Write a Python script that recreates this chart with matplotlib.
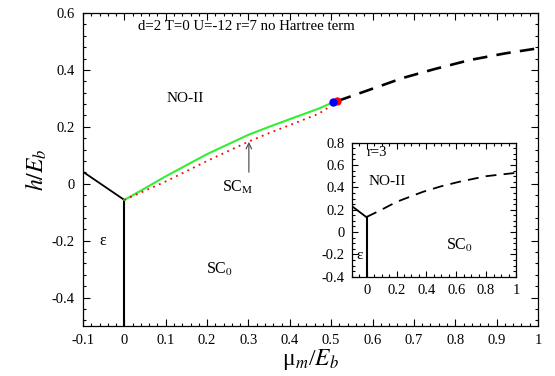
import matplotlib
matplotlib.use("Agg")
import matplotlib.pyplot as plt
from matplotlib.ticker import MultipleLocator

plt.rcParams['font.family'] = ['Liberation Serif', 'DejaVu Serif']
plt.rcParams['mathtext.fontset'] = 'stix'

# ---- main panel data (r=7) ----
left_x = [-0.1, 0.0]
left_y = [0.042, -0.057]
vert_x = [0.0, 0.0]
vert_y = [-0.057, -0.5]
green_x = [0.0, 0.05, 0.1, 0.2, 0.3, 0.35, 0.4, 0.47, 0.504]
green_y = [-0.057, -0.016, 0.026, 0.104, 0.172, 0.2, 0.227, 0.264, 0.286]
red_x = [0.0, 0.1, 0.2, 0.3, 0.35, 0.4, 0.47, 0.514]
red_y = [-0.057, 0.008, 0.08, 0.148, 0.178, 0.206, 0.246, 0.288]
dash_x = [0.514, 0.6, 0.674, 0.75, 0.836, 0.92, 1.0]
dash_y = [0.29, 0.334, 0.372, 0.403, 0.435, 0.458, 0.476]
blue_pt = (0.504, 0.287)
red_pt = (0.514, 0.29)

# ---- inset data (r=3) ----
in_left_x = [-0.1, 0.0]
in_left_y = [0.233, 0.132]
in_vert_x = [0.0, 0.0]
in_vert_y = [0.132, -0.4]
in_dash_x = [0.0, 0.1, 0.2, 0.377, 0.5, 0.62, 0.8, 1.0]
in_dash_y = [0.135, 0.2, 0.27, 0.36, 0.41, 0.45, 0.5, 0.53]

fig = plt.figure(figsize=(5.55, 3.76), dpi=100)
ax = fig.add_axes([0.1495, 0.133, 0.8199, 0.8324])

ax.plot(left_x, left_y, color='black', lw=1.3)
ax.plot(vert_x, vert_y, color='black', lw=1.5)
ax.plot(green_x, green_y, color='#33ee33', lw=1.5)
ax.plot(red_x, red_y, color='red', lw=1.3, ls=(0, (1, 2.5)))
ax.plot(dash_x, dash_y, color='black', lw=1.9, ls=(0, (5.5, 3.5)))
ax.plot(*blue_pt, 'o', color='blue', ms=5, zorder=5)
ax.plot(*red_pt, 'o', color='red', ms=5, zorder=4)

ax.annotate('', xy=(0.301, 0.157), xytext=(0.301, 0.031),
            arrowprops=dict(arrowstyle='->', color='#555555', lw=0.9))

ax.set_xlim(-0.1, 1.0)
ax.set_ylim(-0.5, 0.6)
ax.set_xticks([-0.1, 0, 0.1, 0.2, 0.3, 0.4, 0.5, 0.6, 0.7, 0.8, 0.9, 1.0])
ax.set_xticklabels(['-0.1', '0', '0.1', '0.2', '0.3', '0.4', '0.5', '0.6', '0.7', '0.8', '0.9', '1'])
ax.set_yticks([-0.4, -0.2, 0, 0.2, 0.4, 0.6])
ax.set_yticklabels(['-0.4', '-0.2', '0', '0.2', '0.4', '0.6'])
ax.xaxis.set_minor_locator(MultipleLocator(0.02))
ax.yaxis.set_minor_locator(MultipleLocator(0.04))
ax.tick_params(which='both', direction='in', top=True, right=True, labelsize=10.5, width=0.8)
ax.tick_params(which='major', length=5, pad=6)
ax.tick_params(which='minor', length=2.5)
for s in ax.spines.values():
    s.set_linewidth(0.9)

ax.set_xlabel('μ$_m$/$E_b$', fontsize=17, labelpad=0)
ax.set_ylabel('$h/E_b$', fontsize=17, labelpad=2)

ax.text(0.033, 0.551, 'd=2 T=0 U=-12 r=7 no Hartree term', fontsize=10.7, va='center', ha='left')
ax.text(0.146, 0.298, 'NO-II', fontsize=11, ha='center', va='center')
ax.text(-0.052, -0.2, 'ε', fontsize=11.5, ha='center', va='center')
ax.text(0.231, -0.3, 'SC$_{\\rm 0}$', fontsize=11.5, ha='center', va='center')
ax.text(0.275, -0.012, 'SC$_{\\rm M}$', fontsize=11.5, ha='center', va='center')

# ---- inset ----
ins = fig.add_axes([0.6337, 0.2641, 0.296, 0.3564])
ins.plot(in_left_x, in_left_y, color='black', lw=1.3)
ins.plot(in_vert_x, in_vert_y, color='black', lw=1.5)
ins.plot(in_dash_x, in_dash_y, color='black', lw=1.3, ls=(0, (6, 4)))
ins.set_xlim(-0.1, 1.0)
ins.set_ylim(-0.4, 0.8)
ins.set_xticks([0, 0.2, 0.4, 0.6, 0.8, 1.0])
ins.set_xticklabels(['0', '0.2', '0.4', '0.6', '0.8', '1'])
ins.set_yticks([-0.4, -0.2, 0, 0.2, 0.4, 0.6, 0.8])
ins.set_yticklabels(['-0.4', '-0.2', '0', '0.2', '0.4', '0.6', '0.8'])
ins.xaxis.set_minor_locator(MultipleLocator(0.05))
ins.yaxis.set_minor_locator(MultipleLocator(0.05))
ins.tick_params(which='both', direction='in', top=True, right=True, labelsize=10.5, width=0.8)
ins.tick_params(which='major', length=4, pad=5)
ins.tick_params(which='minor', length=2)
for s in ins.spines.values():
    s.set_linewidth(0.9)
ins.text(0.0, 0.71, 'r=3', fontsize=10.5, ha='left', va='center')
ins.text(0.14, 0.45, 'NO-II', fontsize=11, ha='center', va='center')
ins.text(0.62, -0.12, 'SC$_{\\rm 0}$', fontsize=11.5, ha='center', va='center')
ins.text(-0.045, -0.21, 'ε', fontsize=11, ha='center', va='center')

fig.savefig('out.png', dpi=100)
